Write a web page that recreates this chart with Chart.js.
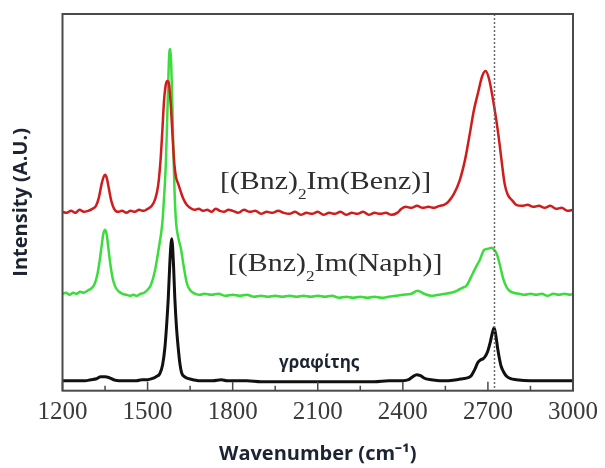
<!DOCTYPE html>
<html>
<head>
<meta charset="utf-8">
<script src="https://cdn.jsdelivr.net/npm/chart.js@4.4.1/dist/chart.umd.min.js"></script>
<style>
  html, body { margin: 0; padding: 0; background: #fff; }
</style>
</head>
<body>
<canvas id="raman" width="605" height="468"></canvas>
<script>
// Raman spectra, intensity in arbitrary units (offset traces)
const benzX = [1200,1215,1230,1245,1260,1275,1290,1305,1318,1328,1338,1345,1350,1356,1363,1372,1382,1395,1410,1425,1440,1455,1470,1485,1500,1515,1527,1537,1545,1552,1558,1564,1570,1576,1582,1588,1594,1600,1608,1616,1626,1638,1650,1665,1680,1695,1710,1725,1740,1755,1770,1785,1800,1820,1840,1860,1880,1900,1920,1940,1960,1980,2000,2020,2040,2060,2080,2100,2120,2140,2160,2180,2200,2220,2240,2260,2280,2300,2320,2340,2360,2380,2395,2410,2430,2450,2470,2490,2510,2530,2545,2560,2580,2600,2620,2636,2650,2665,2680,2692,2704,2717,2730,2741,2750,2759,2770,2787,2800,2820,2840,2860,2880,2900,2920,2940,2960,2980,3000];
const benzY = [179,178,180,178,181,179,180,182,185,193,207,214,216,213,203,190,182,179,180,178,180,179,181,180,182,185,192,205,228,260,290,306,310,306,285,255,228,214,207,200,192,186,183,181,182,180,181,179,182,180,179,181,180,178,181,179,180,177,179,178,180,178,177,179,176,178,177,179,176,178,177,179,176,178,177,179,176,178,177,178,176,178,182,184,183,185,183,184,183,185,186,189,197,210,232,257,280,298,315,320,312,293,270,247,226,207,196,190,186,185,186,184,185,183,185,182,183,180,181];

const naphX = [1200,1212,1225,1238,1250,1262,1275,1288,1300,1312,1322,1330,1338,1344,1350,1356,1362,1370,1378,1388,1400,1412,1425,1438,1450,1462,1475,1488,1500,1512,1526,1538,1552,1558,1564,1568,1572,1576,1580,1583,1587,1591,1595,1600,1609,1617,1627,1639,1652,1668,1685,1700,1725,1750,1775,1800,1825,1850,1875,1900,1925,1950,1975,2000,2025,2050,2075,2100,2125,2150,2175,2200,2225,2250,2275,2300,2325,2350,2375,2400,2430,2452,2475,2500,2525,2550,2570,2590,2610,2624,2646,2660,2670,2687,2700,2713,2722,2731,2742,2753,2765,2776,2790,2810,2830,2850,2870,2890,2910,2930,2950,2970,2990,3000];
const naphY = [97,98,96,98,97,99,98,100,102,106,115,128,145,157,161,156,142,124,111,103,99,97,96,95,96,95,97,98,101,106,120,140,168,193,225,260,300,335,342,330,290,240,200,170,152,143,125,107,100,97,96,97,96,97,95,96,95,96,94,95,94,95,94,95,94,95,94,95,94,95,93,94,93,94,93,94,93,94,95,96,97,100,97,95,96,97,98,100,103,105,117,125,130,141,142,143,141,137,126,113,104,100,98,97,96,97,96,97,95,97,96,97,96,97];

const graphiteX = [1200,1220,1240,1260,1280,1300,1320,1335,1350,1365,1380,1400,1420,1440,1460,1480,1500,1515,1530,1543,1553,1561,1567,1573,1578,1582,1585,1588,1592,1596,1602,1608,1614,1620,1630,1645,1660,1680,1700,1730,1760,1780,1800,1850,1900,1950,2000,2050,2100,2150,2200,2250,2300,2350,2400,2420,2435,2449,2462,2480,2500,2530,2560,2590,2610,2630,2641,2655,2664,2675,2683,2692,2700,2707,2715,2722,2728,2734,2740,2746,2755,2764,2780,2800,2850,2900,2950,3000];
const graphiteY = [10,10,10,10,10,11,12,14,14,13,11,10,10,10,10,11,11,12,14,17,26,43,65,93,125,145,152,145,122,93,63,43,27,18,14,12,11,10,10,10,11,10,10,10,9,9,9,9,9,9,9,9,9,10,10,11,14,16,15,12,11,10,10,11,12,13,15,22,28,31,32,35,40,47,57,63,55,43,33,25,19,15,12,11,10,10,10,10];

const majorTicks = [1200, 1500, 1800, 2100, 2400, 2700, 3000];
const minorTicks = [1350, 1650, 1950, 2250, 2550, 2850];
const markerWavenumber = 2722;

const toPoints = (xs, ys) => xs.map((x, i) => ({ x: x, y: ys[i] }));

// frame, inward ticks, dotted marker and trace labels
const decorPlugin = {
  id: 'decor',
  afterDatasetsDraw(chart) {
    const { ctx, chartArea: a, scales: { x, y } } = chart;
    ctx.save();

    // dotted marker at the 2D band
    const mx = Math.round(x.getPixelForValue(markerWavenumber)) + 0.5;
    ctx.strokeStyle = '#6a6a6a';
    ctx.lineWidth = 1.5;
    ctx.setLineDash([2, 2]);
    ctx.beginPath();
    ctx.moveTo(mx, a.top);
    ctx.lineTo(mx, a.bottom);
    ctx.stroke();
    ctx.setLineDash([]);

    // box
    ctx.strokeStyle = '#4a4a4a';
    ctx.lineWidth = 2;
    ctx.strokeRect(a.left, a.top, a.right - a.left, a.bottom - a.top);

    // ticks pointing into the plot
    ctx.lineWidth = 1.5;
    ctx.beginPath();
    majorTicks.forEach(v => {
      const px = x.getPixelForValue(v);
      ctx.moveTo(px, a.bottom);
      ctx.lineTo(px, a.bottom - 9);
    });
    minorTicks.forEach(v => {
      const px = x.getPixelForValue(v);
      ctx.moveTo(px, a.bottom);
      ctx.lineTo(px, a.bottom - 5);
    });
    ctx.stroke();

    // trace labels with subscript
    const drawFormula = (pre, sub, post, wx, wy) => {
      const px = x.getPixelForValue(wx);
      const py = y.getPixelForValue(wy);
      ctx.save();
      ctx.translate(px, py);
      ctx.scale(1.15, 1);
      ctx.fillStyle = '#2e2e2e';
      ctx.textBaseline = 'alphabetic';
      ctx.textAlign = 'left';
      ctx.font = '26px "Liberation Serif"';
      ctx.fillText(pre, 0, 0);
      let w = ctx.measureText(pre).width;
      ctx.font = '15px "Liberation Serif"';
      ctx.fillText(sub, w, 10);
      w += ctx.measureText(sub).width;
      ctx.font = '26px "Liberation Serif"';
      ctx.fillText(post, w, 0);
      ctx.restore();
    };
    drawFormula('[(Bnz)', '2', 'Im(Benz)]', 1755, 202);
    drawFormula('[(Bnz)', '2', 'Im(Naph)]', 1783, 120);

    ctx.fillStyle = '#1c2333';
    ctx.font = 'bold 17px "Open Sans"';
    ctx.textAlign = 'center';
    ctx.textBaseline = 'alphabetic';
    ctx.fillText('γραφίτης', x.getPixelForValue(2105), y.getPixelForValue(23));

    ctx.restore();
  }
};

new Chart(document.getElementById('raman'), {
  type: 'line',
  data: {
    datasets: [
      { label: '[(Bnz)2Im(Benz)]', data: toPoints(benzX, benzY), borderColor: '#d01c1c', borderWidth: 2.5 },
      { label: '[(Bnz)2Im(Naph)]', data: toPoints(naphX, naphY), borderColor: '#3cdc3c', borderWidth: 2.5 },
      { label: 'γραφίτης', data: toPoints(graphiteX, graphiteY), borderColor: '#111111', borderWidth: 3 }
    ]
  },
  options: {
    responsive: false,
    devicePixelRatio: 1,
    animation: false,
    layout: { padding: { top: 14, right: 31.5, left: 0, bottom: 0 } },
    elements: {
      point: { radius: 0 },
      line: { cubicInterpolationMode: 'monotone', fill: false }
    },
    plugins: {
      legend: { display: false },
      tooltip: { enabled: false }
    },
    scales: {
      x: {
        type: 'linear',
        min: 1200,
        max: 3000,
        afterBuildTicks: s => { s.ticks = majorTicks.map(v => ({ value: v })); },
        afterFit: s => { s.height = 77.3; },
        grid: { display: false, drawTicks: false },
        border: { display: false },
        ticks: {
          padding: 7,
          color: '#3a3a3a',
          font: { family: '"Liberation Serif"', size: 25 },
          callback: v => String(v)
        },
        title: {
          display: true,
          text: 'Wavenumber (cm⁻¹)',
          color: '#1c2333',
          font: { family: '"Open Sans"', size: 20, weight: 'bold' },
          padding: { top: 0, bottom: 2 }
        }
      },
      y: {
        min: 0,
        max: 377,
        afterFit: s => { s.width = 62.5; },
        grid: { display: false, drawTicks: false },
        border: { display: false },
        ticks: { display: false },
        title: {
          display: true,
          text: 'Intensity (A.U.)',
          color: '#1c2333',
          font: { family: '"Open Sans"', size: 20, weight: 'bold' },
          padding: { top: 9, bottom: 0 }
        }
      }
    }
  },
  plugins: [decorPlugin]
});
</script>
</body>
</html>
